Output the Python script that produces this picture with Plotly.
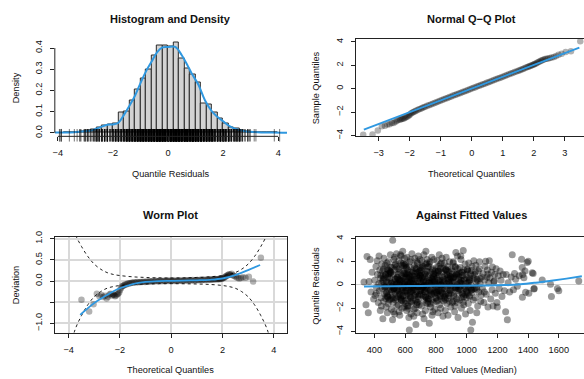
import plotly.graph_objects as go

# ---------------- Histogram and Density ----------------
hist_bin_centers = [-3.7, -3.5, -3.3, -3.1, -2.9, -2.7, -2.5, -2.3, -2.1, -1.9, -1.7, -1.5, -1.3, -1.1,
                    -0.9, -0.7, -0.5, -0.3, -0.1, 0.1, 0.3, 0.5, 0.7, 0.9, 1.1, 1.3, 1.5, 1.7, 1.9,
                    2.1, 2.3, 2.5, 2.7, 2.9, 3.1, 3.3, 3.5, 3.7, 3.9]
hist_density = [0.0025, 0.0, 0.0025, 0.005, 0.012, 0.016, 0.025, 0.037, 0.040, 0.046, 0.097, 0.100,
                0.154, 0.205, 0.258, 0.300, 0.366, 0.410, 0.412, 0.405, 0.425, 0.352, 0.305, 0.275,
                0.238, 0.138, 0.135, 0.095, 0.070, 0.045, 0.025, 0.022, 0.010, 0.006, 0.002, 0.0,
                0.0, 0.0, 0.0025]

kde_x = [-4.11, -3.8, -3.4, -3.0, -2.76, -2.5, -2.2, -2.0, -1.8, -1.6, -1.4, -1.2, -1.0, -0.8, -0.6,
         -0.4, -0.2, 0.0, 0.26, 0.5, 0.7, 0.86, 1.1, 1.34, 1.6, 1.8, 2.0, 2.2, 2.42, 2.78, 3.0, 3.38,
         3.8, 4.32]
kde_y = [0.002, 0.002, 0.003, 0.008, 0.012, 0.025, 0.038, 0.040, 0.048, 0.085, 0.128, 0.175, 0.235,
         0.290, 0.335, 0.380, 0.403, 0.405, 0.405, 0.366, 0.320, 0.280, 0.228, 0.154, 0.100, 0.075,
         0.055, 0.035, 0.020, 0.008, 0.005, 0.002, 0.002, 0.001]

# ---------------- Q-Q / Worm data ----------------
theoretical_q = [-3.5, -3.2, -3.03, -2.9, -2.8, -2.72, -2.65, -2.58, -2.52, -2.46, -2.41, -2.36, -2.31,
                 -2.27, -2.23, -2.19, -2.15, -2.11, -2.07, -2.03, -2.0, -1.96, -1.92, -1.88, -1.84,
                 -1.8, -1.75, -1.7, -1.65, -1.6, -1.55, -1.5, -1.44, -1.38, -1.32, -1.26, -1.2, -1.14,
                 -1.08, -1.02, -0.96, -0.9, -0.84, -0.78, -0.72, -0.66, -0.6, -0.54, -0.48, -0.42,
                 -0.36, -0.3, -0.24, -0.18, -0.12, -0.06, 0.0, 0.06, 0.12, 0.18, 0.24, 0.3, 0.36, 0.42,
                 0.48, 0.54, 0.6, 0.66, 0.72, 0.78, 0.84, 0.9, 0.96, 1.02, 1.08, 1.14, 1.2, 1.26, 1.32,
                 1.38, 1.44, 1.5, 1.55, 1.6, 1.65, 1.7, 1.75, 1.8, 1.84, 1.88, 1.92, 1.96, 2.0, 2.03,
                 2.07, 2.11, 2.15, 2.19, 2.23, 2.27, 2.31, 2.36, 2.41, 2.46, 2.52, 2.58, 2.65, 2.72,
                 2.8, 2.9, 3.03, 3.2, 3.5]
deviation = [-0.44, -0.72, -0.55, -0.30, -0.36, -0.33, -0.38, -0.35, -0.41, -0.37, -0.32, -0.30, -0.34,
             -0.31, -0.33, -0.36, -0.34, -0.31, -0.30, -0.27, -0.22, -0.17, -0.13, -0.11, -0.10,
             -0.08, -0.08, -0.06, -0.06, -0.05, -0.04, -0.04, -0.03, -0.035, -0.025, -0.03, -0.02,
             -0.025, -0.015, -0.02, -0.01, -0.015, -0.005, -0.01, 0.0, -0.01, 0.005, -0.005, 0.0,
             0.01, -0.005, 0.005, 0.0, 0.01, 0.0, 0.01, 0.005, 0.01, 0.0, 0.015, 0.005, 0.01, 0.015,
             0.005, 0.015, 0.01, 0.02, 0.01, 0.02, 0.015, 0.025, 0.015, 0.02, 0.025, 0.02, 0.03, 0.02,
             0.03, 0.025, 0.035, 0.03, 0.035, 0.03, 0.04, 0.035, 0.04, 0.045, 0.04, 0.05, 0.045,
             0.05, 0.055, 0.06, 0.07, 0.08, 0.10, 0.12, 0.13, 0.15, 0.16, 0.15, 0.17, 0.14, 0.12,
             0.10, 0.08, 0.06, 0.07, 0.09, 0.08, 0.10, -0.01, 0.55]
sample_q = [t + d for t, d in zip(theoretical_q, deviation)]

qq_line_x = [-3.48, 3.47]
qq_line_y = [-3.5, 3.5]

band_x = [-3.9, -3.75, -3.5, -3.25, -3.0, -2.75, -2.5, -2.25, -2.0, -1.5, -1.0, -0.5, 0.0,
          0.5, 1.0, 1.5, 2.0, 2.25, 2.5, 2.75, 3.0, 3.25, 3.5, 3.75, 3.9]
band_upper = [1.5, 1.12, 0.82, 0.58, 0.40, 0.28, 0.20, 0.155, 0.13, 0.10, 0.085, 0.075, 0.072,
              0.075, 0.085, 0.10, 0.13, 0.155, 0.20, 0.28, 0.40, 0.58, 0.82, 1.12, 1.5]
band_lower = [-1.5, -1.15, -0.82, -0.56, -0.37, -0.25, -0.17, -0.13, -0.105, -0.08, -0.07, -0.065,
              -0.063, -0.065, -0.07, -0.08, -0.105, -0.13, -0.17, -0.25, -0.37, -0.56, -0.82, -1.15, -1.5]

worm_fit_x = [-3.55, -3.25, -3.0, -2.75, -2.5, -2.25, -2.0, -1.5, -1.0, -0.5, 0.0, 0.5, 1.0, 1.5,
              2.0, 2.5, 3.0, 3.47]
worm_fit_y = [-0.80, -0.64, -0.52, -0.42, -0.33, -0.24, -0.17, -0.07, -0.02, 0.0, 0.005, 0.01,
              0.018, 0.03, 0.06, 0.14, 0.26, 0.38]

# ---------------- Against fitted values ----------------
fitted_values = [
    332, 345, 352, 360, 365, 372, 378, 385, 395,
    402, 405, 410, 413, 418, 420, 425, 428, 432, 435, 438, 440, 443, 446, 448, 412, 430, 445,
    451, 453, 455, 458, 460, 462, 465, 467, 470, 472, 474, 476, 478, 480, 482, 484, 486, 488, 490,
    492, 494, 496, 498, 457, 469, 481, 489, 497,
    500, 502, 504, 506, 508, 510, 512, 514, 516, 518, 519, 520, 522, 524, 526, 528, 530, 532, 534,
    536, 538, 540, 542, 544, 546, 548, 549, 505, 515, 525, 535, 545, 511, 531,
    551, 553, 555, 557, 559, 561, 563, 565, 567, 569, 571, 573, 575, 577, 579, 581, 583, 584, 586,
    588, 590, 592, 594, 596, 598, 554, 560, 566, 572, 578, 585, 591, 597, 556, 570, 582, 593, 599,
    600, 602, 604, 606, 608, 610, 612, 614, 616, 618, 620, 622, 624, 626, 627, 628, 630, 632, 634,
    636, 638, 640, 642, 644, 646, 648, 603, 609, 615, 621, 629, 635, 641, 647, 607, 619, 631, 643,
    611, 637,
    651, 653, 655, 657, 659, 661, 663, 665, 667, 669, 670, 672, 674, 676, 678, 680, 682, 684, 686,
    688, 690, 692, 694, 696, 698, 656, 662, 668, 675, 681, 687, 693, 699, 660, 673, 685, 697, 666,
    700, 702, 704, 706, 708, 710, 712, 714, 716, 718, 720, 722, 724, 726, 728, 730, 732, 734, 735,
    736, 738, 740, 742, 744, 746, 748, 705, 711, 717, 723, 729, 737, 743, 749, 715, 733,
    751, 753, 755, 757, 759, 761, 763, 765, 767, 769, 771, 773, 775, 777, 779, 781, 783, 785, 787,
    789, 791, 793, 795, 797, 799, 756, 764, 772, 780, 788, 796, 760,
    801, 803, 805, 807, 809, 811, 813, 815, 817, 819, 821, 822, 824, 826, 828, 830, 832, 834, 836,
    838, 840, 842, 844, 846, 848, 806, 816, 827, 837, 847,
    851, 853, 855, 857, 859, 861, 863, 865, 867, 869, 871, 873, 875, 877, 879, 881, 883, 885, 887,
    889, 891, 893, 895, 897, 899, 862, 878,
    901, 904, 907, 910, 913, 916, 919, 922, 925, 928, 930, 932, 935, 938, 941, 944, 947, 949, 912,
    924, 936, 946, 918, 940,
    951, 954, 957, 960, 963, 966, 969, 972, 975, 978, 981, 984, 987, 990, 993, 996, 999, 958, 970,
    982, 994, 962,
    1002, 1005, 1008, 1011, 1014, 1017, 1020, 1023, 1026, 1027, 1029, 1032, 1035, 1038, 1041, 1044,
    1047, 1018,
    1052, 1056, 1060, 1064, 1068, 1072, 1076, 1080, 1084, 1088, 1092, 1096, 1066, 1082,
    1103, 1107, 1112, 1116, 1120, 1124, 1128, 1133, 1135, 1139, 1144, 1148,
    1152, 1157, 1162, 1166, 1168, 1172, 1177, 1182, 1187, 1192, 1197,
    1200, 1206, 1212, 1218, 1224, 1230, 1238, 1246,
    1254, 1258, 1265, 1270, 1280, 1290, 1297,
    1305, 1312, 1319, 1330, 1342,
    1358, 1362, 1363, 1365, 1373, 1380, 1384, 1394,
    1401, 1405, 1427, 1433, 1438, 1440,
    1492, 1546, 1552, 1591, 1600, 1730,
    455, 478, 503, 527, 549, 571, 594, 618, 641, 663,
    687, 709, 732, 756, 779, 803, 826, 849, 873, 897,
    921, 944, 968, 991, 1015, 1043, 468, 492, 515, 538,
    561, 584, 607, 631, 654, 677, 700, 723, 746, 770,
    793, 816, 839, 862, 886, 909, 933, 957, 980, 1004,
    1029, 1061, 462, 486, 509, 533, 556, 579, 602, 626,
    649, 672, 695, 718, 741, 764, 787, 810, 834, 857,
    881, 904, 927, 951, 974, 998, 1022, 1054, 1088, 474,
    498, 521, 544, 567, 590, 613, 636, 659, 682, 705,
    728, 751, 774, 797, 821, 844, 867, 891, 914, 938,
    962, 985, 1009, 1035, 1072, 441, 483, 506, 530, 553,
    576, 599, 622, 645, 668, 691, 714, 737, 760, 783,
    807, 830, 853, 877, 900, 924, 947, 971, 995, 1019,
    1048, 1115, 459, 512, 541, 565, 588, 611, 634, 657,
    680, 703, 726, 749, 772, 795, 818, 842, 865, 888,
    912, 935, 959, 983, 1007, 1032, 1066, 1138, 489, 525,
    558, 582, 605, 628, 652, 675, 698, 721, 744, 767,
    790, 813, 836, 860, 883, 907, 930, 954, 978, 1001,
    1026, 1057, 1095, 1180, 472, 547, 596, 643, 689, 735,
    781, 828, 874, 918, 965, 1012, 620, 711, 802, 893,
]
quantile_residuals = [
    0.25, -1.7, 2.45, -2.4, 0.3, 2.2, -0.6, 1.1, -1.2,
    0.4, -0.9, 1.6, -0.2, 2.1, 0.9, -1.5, 0.1, -0.5, 1.3, -2.2, 0.6, -1.1, 0.2, 1.8, -0.7, 2.5, -1.8,
    -0.3, 1.2, -2.9, 0.5, -1.4, 2.3, 0.0, -0.8, 1.7, -0.1, 0.9, -1.9, 0.3, -0.6, 1.4, -2.4, 0.7,
    -1.0, 2.0, 0.2, -0.4, 1.0, -1.3, 0.8, -0.2, 1.9, -1.6, 0.4,
    0.6, -1.2, 2.6, -0.4, 1.1, -2.1, 0.2, 1.5, -0.9, -3.0, 3.86, 0.0, -1.5, 0.9, 2.2, -0.3, 1.3,
    -2.5, 0.5, -0.7, 1.8, -1.1, 0.1, 2.7, -1.8, 0.7, -0.5, 1.0, -0.1, -2.3, 0.3, 1.6, -0.6, 2.4,
    -0.2, 1.4, -1.7, 0.5, 2.1, -0.8, 0.0, -2.6, 1.1, 0.3, -1.1, 2.5, -0.4, 0.8, -2.0, 1.7, 0.2, 2.9,
    -0.9, 0.6, -1.4, 1.2, -0.1, 2.3, -0.6, 0.9, -2.3, 0.4, 1.9, -1.3, -0.3, 1.0, 0.1, -1.0, 2.6,
    -0.5, -1.9, 0.7,
    0.3, -1.6, 1.8, -0.2, 0.9, -2.2, 2.4, 0.0, -0.7, 1.3, -1.2, 0.6, -2.8, 1.6, -3.87, -0.4, 2.0,
    0.2, -1.0, 1.1, -2.5, 0.5, -0.1, 2.7, -1.4, 0.8, -0.5, 1.5, -1.8, 0.1, -0.9, 2.2, -0.3, 1.2,
    0.7, -2.0, -0.6, 0.4, 1.0, -1.1,
    1.1, -0.4, 0.2, -2.1, 1.7, -0.9, 2.3, 0.5, -1.3, 0.0, -3.4, 1.4, -0.6, 0.8, -2.4, 1.9, 0.3,
    -1.0, 2.5, -0.2, 0.9, -1.7, 1.2, -0.5, 0.4, -2.7, 1.0, -0.1, 2.0, -1.5, 0.6, -0.8, 1.5, -0.3,
    0.1, -1.2, 2.2, -2.0,
    -0.5, 1.3, 0.1, -1.8, 2.1, -0.2, 0.7, -2.5, 1.6, -0.9, 0.4, 2.6, -1.3, 0.0, 1.0, -0.6, -2.2,
    1.8, 2.9, 0.3, -1.1, 1.2, -0.3, 2.2, -1.6, 0.6, -0.8, 1.5, -0.1, -2.9, 0.9, -0.4, 1.9, -1.4,
    0.2, -1.0,
    0.8, -1.2, 1.6, -3.3, 0.2, -0.5, 2.0, -1.9, 1.1, 0.0, -0.8, 2.4, -2.6, 0.5, 1.4, -0.3, -1.5,
    0.9, 2.2, -0.7, 0.3, -2.1, 1.2, -0.1, -1.1, 1.8, -0.4, 0.6, -2.3, 1.0, 0.1, -0.9,
    -0.2, 1.5, -1.4, 0.6, 2.1, -0.8, 0.1, -2.4, 1.2, -0.5, 0.9, 2.6, -1.7, 0.3, -0.9, 1.8, -2.0,
    0.0, 1.1, -1.2, 2.3, -0.3, 0.7, -2.7, 1.4, -0.6, 0.4, -1.0, 1.9, 0.2,
    0.5, -1.1, 1.9, -0.3, 0.8, -2.2, 1.3, -0.7, 2.4, 0.1, -1.6, 0.9, -0.2, 1.6, -2.6, 0.4, -0.9,
    1.1, -1.4, 2.0, 0.2, -0.5, 0.7, -1.9, 1.4, -0.1, 0.6,
    -0.4, 1.2, -1.5, 0.6, 2.0, -0.9, 0.3, -2.3, 1.6, -0.2, 2.8, 0.9, -1.2, 0.0, 1.4, -2.8, 0.5,
    -0.7, 1.9, -1.8, 1.0, -0.3, 0.2, 2.5,
    0.7, -1.3, 1.5, -0.4, 2.2, -2.0, 0.1, 1.1, -0.8, 2.97, -1.7, 0.4, -0.1, 1.8, -2.5, 0.9, -0.6,
    0.2, -1.1, 1.3, -0.3, 2.5,
    -0.5, 1.3, 0.2, -1.6, 1.9, -0.9, 0.6, -2.2, 1.0, -3.87, 0.0, -0.4, 1.6, -3.2, 0.8, -1.3, 2.1, 0.4,
    0.9, -1.1, 1.7, -0.2, 0.5, -1.8, 1.2, -0.6, 2.0, 0.1, -1.4, 0.7, -2.4, 1.4,
    -0.3, 1.0, -1.5, 0.4, 1.6, 2.04, -0.8, 0.7, 1.3, -1.9, 0.2, 2.1,
    0.6, -1.2, 1.1, -0.4, 1.55, -1.8, 0.3, 0.9, -0.7, 1.4, -1.5,
    -1.9, 0.8, -0.3, 1.2, 0.4, -1.0, 0.9, -0.5,
    -2.3, 0.9, -3.0, 0.2, -0.6, 0.7, 2.6,
    -0.4, 1.0, 0.5, -0.1, 0.8,
    2.23, 1.5, -1.05, 0.9, 0.63, 1.2, -0.63, 1.95,
    2.04, -0.7, 1.05, 1.0, -0.35, -0.3,
    0.44, 0.07, -1.0, -0.3, -0.5, 0.35,
    0.35, -0.72, 1.14, -0.28, 0.63, -1.21, 0.07, 0.92, -0.55, 1.46,
    -0.13, 0.58, -1.04, 0.21, 1.27, -0.66, 0.44, -1.38, 0.86, -0.09,
    0.71, -0.47, 1.09, -0.84, 0.26, -0.35, -0.18, 0.97, -1.12, 0.49,
    1.33, -0.24, -0.91, 0.68, 0.12, -1.47, 0.83, -0.39, 1.58, -0.76,
    0.04, 1.18, -0.62, -1.25, 0.51, 0.93, -0.31, 0.17, -0.98, 1.36,
    -0.45, 0.29, 0.62, -1.06, 0.14, 1.72, -0.53, 0.38, -1.33, 0.79,
    -0.21, 1.41, -0.87, 0.33, -0.05, -1.62, 0.66, 1.05, -0.41, -0.96,
    0.24, -0.69, 1.52, -0.16, 0.81, -1.09, 0.46, -0.27, 0.55, -1.17,
    1.23, -0.37, 0.09, -0.81, 1.66, 0.31, -1.43, 0.74, -0.12, 1.01,
    -0.58, 0.19, -1.29, 0.88, 0.02, -0.73, 1.31, -0.44, 0.67, -1.51,
    0.43, -0.26, 1.19, -0.64, 0.36, 0.85, -0.94, 1.54, -0.33, 0.16,
    -1.36, 0.97, -0.08, 0.52, -0.78, 1.12, -0.19, -1.58, 0.41, 0.73,
    -0.48, 1.44, 0.27, -1.14, 0.61, -0.23, 0.95, -0.71, 0.13, -1.02,
    0.57, -0.6, 1.38, -0.15, -1.27, 0.47, 1.85, -0.52, 0.22, -0.89,
    1.07, -0.34, 0.69, -1.19, 0.18, -0.57, 1.62, 0.39, -0.82, 0.06,
    -1.41, 0.84, -0.11, 0.53, -0.68, 1.25, -0.36, 0.92, 1.29, -1.23,
    0.11, -0.95, 1.49, 0.28, -0.42, -1.71, 0.77, -0.06, 1.16, -0.63,
    0.48, -1.32, 0.01, 1.39, -0.74, 0.26, -0.17, 1.03, -1.46, 0.64,
    -0.29, 1.11, -0.86, 0.34, 0.89, -0.4, 1.74, -1.53, 0.59, -0.2,
    0.3, -0.5, 1.21, -0.99, 0.42, -0.14, -1.8, 1.67, -1.16, 0.76,
]
smooth_x = [332, 500, 700, 900, 1100, 1250, 1350, 1450, 1550, 1650, 1750]
smooth_y = [-0.13, -0.10, -0.08, -0.06, -0.04, -0.01, 0.06, 0.20, 0.37, 0.55, 0.75]

# rug of residuals under the histogram
rug_values = quantile_residuals + sample_q

# ---------------- styling ----------------
FONT = "Liberation Sans, Arial, Helvetica, sans-serif"
BLUE = "#2f98e0"
W, H = 584, 379


def px_x(p):
    return p / W


def px_y(p):
    return 1 - p / H


fig = go.Figure()

fig.add_trace(go.Bar(x=hist_bin_centers, y=hist_density, width=0.2,
                     marker=dict(color="#d3d3d3", line=dict(color="#2a2a2a", width=1)),
                     xaxis="x", yaxis="y"))
fig.add_trace(go.Scatter(x=kde_x, y=kde_y, mode="lines", line=dict(color=BLUE, width=2, shape="spline"),
                         xaxis="x", yaxis="y"))
fig.add_trace(go.Scatter(x=rug_values, y=[-0.011] * len(rug_values), mode="markers",
                         marker=dict(symbol="line-ns-open", size=9, color="rgba(0,0,0,0.45)",
                                     line=dict(color="rgba(0,0,0,0.45)", width=1.2)),
                         cliponaxis=False, xaxis="x", yaxis="y"))

fig.add_trace(go.Scatter(x=theoretical_q, y=sample_q, mode="markers",
                         marker=dict(color="rgba(0,0,0,0.3)", size=6.5, line=dict(width=0)),
                         xaxis="x2", yaxis="y2"))
fig.add_trace(go.Scatter(x=qq_line_x, y=qq_line_y, mode="lines", line=dict(color=BLUE, width=1.8),
                         xaxis="x2", yaxis="y2"))

for band in (band_upper, band_lower):
    fig.add_trace(go.Scatter(x=band_x, y=band, mode="lines",
                             line=dict(color="#222", width=1, dash="3px,3px", shape="spline"),
                             xaxis="x3", yaxis="y3"))
fig.add_trace(go.Scatter(x=theoretical_q, y=deviation, mode="markers",
                         marker=dict(color="rgba(0,0,0,0.3)", size=6.5, line=dict(width=0)),
                         xaxis="x3", yaxis="y3"))
fig.add_trace(go.Scatter(x=worm_fit_x, y=worm_fit_y, mode="lines",
                         line=dict(color=BLUE, width=1.8, shape="spline"), xaxis="x3", yaxis="y3"))

fig.add_trace(go.Scatter(x=fitted_values, y=quantile_residuals, mode="markers",
                         marker=dict(color="rgba(0,0,0,0.4)", size=7, line=dict(width=0)),
                         xaxis="x4", yaxis="y4"))
fig.add_trace(go.Scatter(x=smooth_x, y=smooth_y, mode="lines",
                         line=dict(color=BLUE, width=2, shape="spline"), xaxis="x4", yaxis="y4"))

tickfont = dict(family=FONT, size=9.2, color="#111")
common = dict(ticks="outside", ticklen=4, tickwidth=1, tickcolor="#222", tickfont=tickfont,
              zeroline=False, showgrid=False, ticklabelstandoff=4)
boxed = dict(showline=True, linecolor="#222", linewidth=1)

top_dom = [px_y(133.5), px_y(33.3)]
bot_dom = [px_y(335), px_y(236.7)]
left_dom = [px_x(53), px_x(286)]
right_dom = [px_x(355), 1.0]

minus = "\u2212"

fig.update_layout(
    width=W, height=H, margin=dict(l=0, r=0, t=0, b=0),
    paper_bgcolor="white", plot_bgcolor="white", showlegend=False, bargap=0,
    font=dict(family=FONT, color="#111"),
    xaxis=dict(domain=left_dom, range=[-4.11, 4.32], anchor="y", tickvals=[-4, -2, 0, 2, 4],
               showline=False, **common),
    yaxis=dict(domain=top_dom, range=[-0.0161, 0.4448], anchor="x",
               tickvals=[0, 0.1, 0.2, 0.3, 0.4], ticktext=["0.0", "0.1", "0.2", "0.3", "0.4"],
               tickangle=-90, showline=False, **common),
    xaxis2=dict(domain=right_dom, range=[-3.74, 3.62], anchor="y2", tickvals=[-3, -2, -1, 0, 1, 2, 3],
                mirror=True, **boxed, **common),
    yaxis2=dict(domain=top_dom, range=[-4.07, 4.28], anchor="x2", tickvals=[-4, -2, 0, 2, 4],
                tickangle=-90, **boxed, **common),
    xaxis3=dict(domain=left_dom, range=[-4.54, 4.52], anchor="y3", tickvals=[-4, -2, 0, 2, 4],
                mirror=True, **boxed, **{**common, "showgrid": True}, gridcolor="#d9d9d9", gridwidth=1.5),
    yaxis3=dict(domain=bot_dom, range=[-1.23, 1.04], anchor="x3", tickvals=[-1, -0.5, 0, 0.5, 1],
                ticktext=[minus + "1.0", "", "0.0", "0.5", "1.0"], tickangle=-90, mirror=True,
                **boxed, **{**common, "showgrid": True}, gridcolor="#d9d9d9", gridwidth=1.5),
    xaxis4=dict(domain=right_dom, range=[278.7, 1764], anchor="y4",
                tickvals=[400, 600, 800, 1000, 1200, 1400, 1600], mirror=True, **boxed, **common),
    yaxis4=dict(domain=bot_dom, range=[-4.14, 4.13], anchor="x4", tickvals=[-4, -2, 0, 2, 4],
                tickangle=-90, **boxed, **{**common, "zeroline": True}, zerolinecolor="#d0d0d0",
                zerolinewidth=1),
)

# R-style partial axis lines for the histogram (axis spans first to last tick)
fig.add_shape(type="line", xref="x", yref="y domain", x0=-4, x1=4, y0=0, y1=0,
              line=dict(color="#222", width=1))
fig.add_shape(type="line", xref="x domain", yref="y", x0=0, x1=0, y0=0, y1=0.4,
              line=dict(color="#222", width=1))

title_font = dict(family=FONT, size=11, color="#111")
label_font = dict(family=FONT, size=9.2, color="#111")
lx = (53 + 286) / 2 / W
rx = 471 / W
annotations = [
    dict(text="<b>Histogram and Density</b>", x=lx, y=px_y(13), font=title_font),
    dict(text="<b>Normal Q\u2212Q Plot</b>", x=rx, y=px_y(13), font=title_font),
    dict(text="<b>Worm Plot</b>", x=lx, y=px_y(214), font=title_font),
    dict(text="<b>Against Fitted Values</b>", x=rx, y=px_y(214), font=title_font),
    dict(text="Quantile Residuals", x=lx, y=px_y(172), font=label_font),
    dict(text="Theoretical Quantiles", x=rx, y=px_y(172), font=label_font),
    dict(text="Theoretical Quantiles", x=lx, y=px_y(373), font=label_font),
    dict(text="Fitted Values (Median)", x=rx, y=px_y(373), font=label_font),
    dict(text="Density", x=px_x(14), y=px_y(83.4), textangle=-90, font=label_font),
    dict(text="Sample Quantiles", x=px_x(315), y=px_y(83.4), textangle=-90, font=label_font),
    dict(text="Deviation", x=px_x(14), y=px_y(286), textangle=-90, font=label_font),
    dict(text="Quantile Residuals", x=px_x(315.5), y=px_y(286), textangle=-90, font=label_font),
]
for a in annotations:
    a.update(xref="paper", yref="paper", showarrow=False, xanchor="center", yanchor="middle")
fig.update_layout(annotations=annotations)

fig.write_html("out.html")
